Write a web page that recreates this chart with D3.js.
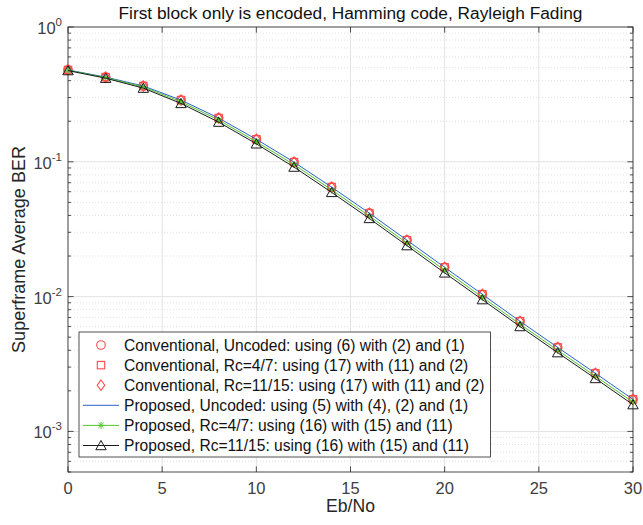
<!DOCTYPE html>
<html>
<head>
<meta charset="utf-8"/>
<script src="https://cdn.jsdelivr.net/npm/d3@7"></script>
<style>
html, body {
  margin: 0;
  background: #fff;
  font-family: "Liberation Sans", Arial, sans-serif;
}
.grid-major { stroke: #e3e3e3; stroke-width: 1; }
.grid-minor { stroke: #d6d6d6; stroke-width: 0.7; stroke-dasharray: 1,2; }
.tick-label { fill: #404040; font-size: 16.5px; }
</style>
</head>
<body>
<svg id="chart" width="643" height="525"></svg>
<script>

// Eb/No in dB
var ebno = [0, 2, 4, 6, 8, 10, 12, 14, 16, 18, 20, 22, 24, 26, 28, 30];

// superframe average BER
var convUncoded = [0.480, 0.425, 0.365, 0.287, 0.211, 0.147, 0.0995, 0.0649, 0.0416, 0.0262, 0.0165, 0.0104, 0.00656, 0.00420, 0.00270, 0.00173];
var convRc47    = [0.480, 0.425, 0.365, 0.287, 0.211, 0.147, 0.0995, 0.0649, 0.0416, 0.0262, 0.0165, 0.0104, 0.00656, 0.00420, 0.00270, 0.00173];
var convRc1115  = [0.480, 0.425, 0.365, 0.287, 0.211, 0.147, 0.0995, 0.0649, 0.0416, 0.0262, 0.0165, 0.0104, 0.00656, 0.00420, 0.00270, 0.00173];
var propUncoded = [0.480, 0.425, 0.365, 0.287, 0.211, 0.147, 0.0995, 0.0649, 0.0416, 0.0262, 0.0165, 0.0104, 0.00656, 0.00420, 0.00270, 0.00173];
var propRc47    = [0.478, 0.421, 0.359, 0.279, 0.204, 0.141, 0.0953, 0.0619, 0.0396, 0.0249, 0.0157, 0.00990, 0.00624, 0.00400, 0.00257, 0.00165];
var propRc1115  = [0.475, 0.417, 0.352, 0.271, 0.197, 0.136, 0.0914, 0.0593, 0.0380, 0.0239, 0.0150, 0.00950, 0.00600, 0.00384, 0.00247, 0.00158];

var xTicks = [0, 5, 10, 15, 20, 25, 30];
var yDecades = [-3, -2, -1, 0];

var titleText = "First block only is encoded, Hamming code, Rayleigh Fading";
var xLabel = "Eb/No";
var yLabel = "Superframe Average BER";

var series = [
  {name: "Conventional, Uncoded: using (6) with (2) and (1)",       values: convUncoded, color: "#ff4a4a", line: false, marker: "circle"},
  {name: "Conventional, Rc=4/7: using (17) with (11) and (2)",      values: convRc47,    color: "#ff4a4a", line: false, marker: "square"},
  {name: "Conventional, Rc=11/15: using (17) with (11) and (2)",    values: convRc1115,  color: "#ff4a4a", line: false, marker: "diamond"},
  {name: "Proposed, Uncoded: using (5) with (4), (2) and (1)",      values: propUncoded, color: "#2b62c2", line: true,  marker: null},
  {name: "Proposed, Rc=4/7: using (16) with (15) and (11)",         values: propRc47,    color: "#52c42c", line: true,  marker: "star"},
  {name: "Proposed, Rc=11/15: using (16) with (15) and (11)",       values: propRc1115,  color: "#1a1a1a", line: true,  marker: "triangle"}
];

//---------------------------------------
var pL = 68, pR = 633, pT = 27, pB = 472;

var x = d3.scaleLinear().domain([0, 30]).range([pL, pR]);
var y = d3.scaleLog().domain([5e-4, 1]).range([pB, pT]);

var svg = d3.select("#chart");

// grid
var minorVals = [];
yDecades.forEach(function(e) {
  for (var k = 2; k <= 9; k++) {
    var v = k * Math.pow(10, e - 1);
    if (v >= 5e-4 && v < 1) minorVals.push(v);
  }
});
svg.append("g").selectAll("line")
  .data(minorVals).enter().append("line")
  .attr("class", "grid-minor")
  .attr("x1", pL).attr("x2", pR)
  .attr("y1", function(d) { return y(d); }).attr("y2", function(d) { return y(d); });

svg.append("g").selectAll("line")
  .data(yDecades).enter().append("line")
  .attr("class", "grid-major")
  .attr("x1", pL).attr("x2", pR)
  .attr("y1", function(d) { return y(Math.pow(10, d)); }).attr("y2", function(d) { return y(Math.pow(10, d)); });

svg.append("g").selectAll("line")
  .data(xTicks).enter().append("line")
  .attr("class", "grid-major")
  .attr("y1", pT).attr("y2", pB)
  .attr("x1", function(d) { return x(d); }).attr("x2", function(d) { return x(d); });

// ticks (inward, both sides)
var tk = svg.append("g").attr("stroke", "#262626").attr("stroke-width", 0.8);
xTicks.forEach(function(d) {
  tk.append("line").attr("x1", x(d)).attr("x2", x(d)).attr("y1", pB).attr("y2", pB - 5.6);
  tk.append("line").attr("x1", x(d)).attr("x2", x(d)).attr("y1", pT).attr("y2", pT + 5.6);
});
yDecades.forEach(function(d) {
  var yy = y(Math.pow(10, d));
  tk.append("line").attr("x1", pL).attr("x2", pL + 5.6).attr("y1", yy).attr("y2", yy);
  tk.append("line").attr("x1", pR).attr("x2", pR - 5.6).attr("y1", yy).attr("y2", yy);
});
minorVals.forEach(function(d) {
  var yy = y(d);
  tk.append("line").attr("x1", pL).attr("x2", pL + 3).attr("y1", yy).attr("y2", yy);
  tk.append("line").attr("x1", pR).attr("x2", pR - 3).attr("y1", yy).attr("y2", yy);
});

// box
svg.append("rect")
  .attr("x", pL).attr("y", pT)
  .attr("width", pR - pL).attr("height", pB - pT)
  .attr("fill", "none").attr("stroke", "#262626").attr("stroke-width", 0.8);

// tick labels
svg.append("g").selectAll("text")
  .data(xTicks).enter().append("text")
  .attr("class", "tick-label")
  .attr("x", function(d) { return x(d); })
  .attr("y", 494)
  .attr("text-anchor", "middle")
  .text(function(d) { return d; });

var yl = svg.append("g").selectAll("text")
  .data(yDecades).enter().append("text")
  .attr("class", "tick-label")
  .attr("x", 62)
  .attr("y", function(d) { return y(Math.pow(10, d)) + 7; })
  .attr("text-anchor", "end");
yl.append("tspan").text("10");
yl.append("tspan").attr("dy", -8).attr("font-size", "11.5px").text(function(d) { return d; });

// axis labels + title
svg.append("text")
  .attr("x", (pL + pR) / 2).attr("y", 19)
  .attr("text-anchor", "middle")
  .attr("font-size", "17.3px").attr("fill", "#111")
  .text(titleText);

svg.append("text")
  .attr("x", (pL + pR) / 2).attr("y", 512)
  .attr("text-anchor", "middle")
  .attr("font-size", "17.6px").attr("fill", "#262626")
  .text(xLabel);

svg.append("text")
  .attr("transform", "translate(25," + ((pT + pB) / 2) + ") rotate(-90)")
  .attr("text-anchor", "middle")
  .attr("font-size", "18px").attr("fill", "#262626")
  .text(yLabel);

//---------------------------------------
function drawMarker(g, type, cx, cy, color) {
  if (type === "circle") {
    g.append("circle").attr("cx", cx).attr("cy", cy).attr("r", 4.3)
      .attr("fill", "none").attr("stroke", color).attr("stroke-width", 1.1);
  } else if (type === "square") {
    g.append("rect").attr("x", cx - 3.7).attr("y", cy - 3.7).attr("width", 7.4).attr("height", 7.4)
      .attr("fill", "none").attr("stroke", color).attr("stroke-width", 1.1);
  } else if (type === "diamond") {
    g.append("path").attr("d", "M" + cx + "," + (cy - 5.2) + "L" + (cx + 3.8) + "," + cy + "L" + cx + "," + (cy + 5.2) + "L" + (cx - 3.8) + "," + cy + "Z")
      .attr("fill", "none").attr("stroke", color).attr("stroke-width", 1.1);
  } else if (type === "triangle") {
    g.append("path").attr("d", "M" + cx + "," + (cy - 5) + "L" + (cx + 5.2) + "," + (cy + 4.2) + "L" + (cx - 5.2) + "," + (cy + 4.2) + "Z")
      .attr("fill", "none").attr("stroke", color).attr("stroke-width", 1);
  } else if (type === "star") {
    var r = 3.5, s = r * 0.72;
    g.append("path").attr("d",
        "M" + (cx - r) + "," + cy + "L" + (cx + r) + "," + cy +
        "M" + cx + "," + (cy - r) + "L" + cx + "," + (cy + r) +
        "M" + (cx - s) + "," + (cy - s) + "L" + (cx + s) + "," + (cy + s) +
        "M" + (cx - s) + "," + (cy + s) + "L" + (cx + s) + "," + (cy - s))
      .attr("fill", "none").attr("stroke", color).attr("stroke-width", 1);
  }
}

var line = d3.line()
  .x(function(d, i) { return x(ebno[i]); })
  .y(function(d) { return y(d); });

var plot = svg.append("g");
series.forEach(function(s) {
  var g = plot.append("g");
  if (s.line) {
    g.append("path").datum(s.values)
      .attr("d", line)
      .attr("fill", "none").attr("stroke", s.color).attr("stroke-width", 1);
  }
  if (s.marker) {
    s.values.forEach(function(v, i) { drawMarker(g, s.marker, x(ebno[i]), y(v), s.color); });
  }
});

//---------------------------------------
// legend
var lgX = 79, lgY = 332, rowH = 20.1;
var lg = svg.append("g");
var box = lg.append("rect")
  .attr("x", lgX).attr("y", lgY)
  .attr("height", 125)
  .attr("fill", "#fff").attr("stroke", "#262626").attr("stroke-width", 0.8);

var maxW = 0;
series.forEach(function(s, i) {
  var yy = lgY + 13 + i * rowH;
  if (s.line) {
    lg.append("line").attr("x1", 83).attr("x2", 119).attr("y1", yy).attr("y2", yy)
      .attr("stroke", s.color).attr("stroke-width", 1);
  }
  if (s.marker) drawMarker(lg, s.marker, 101, yy, s.color);
  var t = lg.append("text")
    .attr("x", 124).attr("y", yy + 5.5)
    .attr("font-size", "15.6px").attr("fill", "#111")
    .text(s.name);
  maxW = Math.max(maxW, t.node().getComputedTextLength());
});
box.attr("width", 124 + maxW + 6 - lgX);

</script>
</body>
</html>
